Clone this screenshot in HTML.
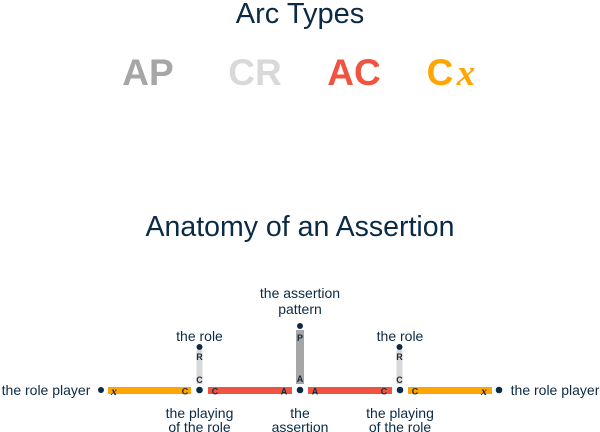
<!DOCTYPE html>
<html><head><meta charset="utf-8"><style>
html,body{margin:0;padding:0;background:#fff;}
svg{display:block;font-family:"Liberation Sans",sans-serif;}
</style></head><body>
<svg width="600" height="432" viewBox="0 0 600 432" xmlns="http://www.w3.org/2000/svg">
<text x="300" y="23" text-anchor="middle" font-size="29" fill="#0b2a45">Arc Types</text>
<g font-size="37" font-weight="bold" text-anchor="middle">
<text x="148" y="85" fill="#a6a6a6">AP</text>
<text x="255" y="85" fill="#d9d9d9">CR</text>
<text x="354" y="85" fill="#f05440">AC</text>
<text x="440" y="85" fill="#ffa500">C</text>
<text x="466" y="85" fill="#ffa500" font-family="Liberation Serif,serif" font-style="italic">x</text>
</g>
<text x="300" y="236" text-anchor="middle" font-size="28.5" fill="#0b2a45">Anatomy of an Assertion</text>

<rect x="108" y="387" width="83" height="7" fill="#ffa500"/>
<rect x="208" y="387" width="84" height="7" fill="#f05440"/>
<rect x="308" y="387" width="84" height="7" fill="#f05440"/>
<rect x="408" y="387" width="84" height="7" fill="#ffa500"/>
<rect x="196.5" y="350" width="6" height="34" fill="#d9d9d9"/>
<rect x="396.5" y="350" width="6" height="34" fill="#d9d9d9"/>
<rect x="296" y="330" width="8" height="54" fill="#a6a6a6"/>

<g fill="#0b2a45">
<circle cx="101" cy="390" r="3"/>
<circle cx="199.5" cy="390" r="3.3"/>
<circle cx="300" cy="390" r="3.3"/>
<circle cx="400" cy="390" r="3.3"/>
<circle cx="499" cy="390" r="3.3"/>
<circle cx="199.5" cy="347" r="3"/>
<circle cx="399.5" cy="347" r="3"/>
<circle cx="300" cy="326" r="3"/>
</g>

<g font-size="9" font-weight="bold" fill="#1a2a3a" text-anchor="middle">
<text x="185" y="394.5">C</text>
<text x="215" y="394.5">C</text>
<text x="284" y="394.5">A</text>
<text x="315" y="394.5">A</text>
<text x="384" y="394.5">C</text>
<text x="415" y="394.5">C</text>
<text x="199.5" y="360">R</text>
<text x="199.5" y="383">C</text>
<text x="399.5" y="360">R</text>
<text x="399.5" y="383">C</text>
<text x="300" y="341">P</text>
<text x="300" y="382">A</text>
<text x="114" y="395" font-family="Liberation Serif,serif" font-style="italic" font-size="12">x</text>
<text x="484" y="395" font-family="Liberation Serif,serif" font-style="italic" font-size="12">x</text>
</g>

<g font-size="14" fill="#0b2a45" text-anchor="middle">
<text x="46" y="395">the role player</text>
<text x="555" y="395">the role player</text>
<text x="199.5" y="341">the role</text>
<text x="400" y="341">the role</text>
<text x="300" y="298">the assertion</text>
<text x="300" y="314">pattern</text>
<text x="199.5" y="418">the playing</text>
<text x="199.5" y="432">of the role</text>
<text x="400" y="418">the playing</text>
<text x="400" y="432">of the role</text>
<text x="300" y="418">the</text>
<text x="300" y="432">assertion</text>
</g>
</svg>
</body></html>
